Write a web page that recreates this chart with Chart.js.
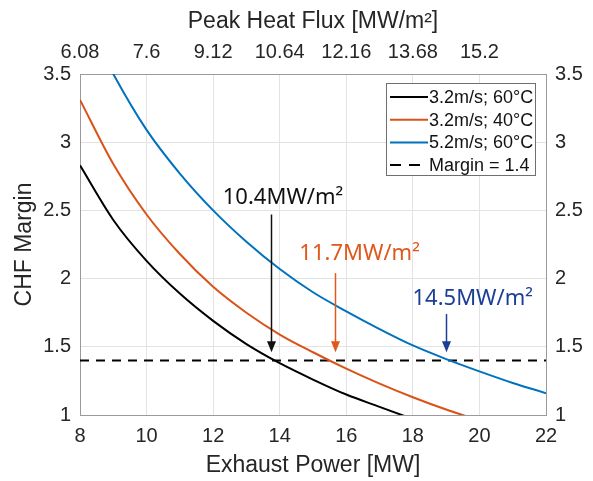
<!DOCTYPE html>
<html>
<head>
<meta charset="utf-8">
<script src="https://cdn.jsdelivr.net/npm/chart.js@4.4.1/dist/chart.umd.min.js"></script>
<style>
  html, body { margin: 0; padding: 0; background: #fff; }
  canvas { display: block; }
</style>
</head>
<body>
<canvas id="chfChart" width="593" height="481"></canvas>
<script>
// Curves (Exhaust Power [MW] -> CHF Margin)
// last points sit just below the axis and get clipped, like the original
const blackX = [8, 9, 10, 11, 12, 13, 14, 15, 16, 17, 18];
const blackY = [2.83, 2.43, 2.13, 1.89, 1.69, 1.52, 1.38, 1.26, 1.15, 1.06, 0.97];
const orangeX = [8, 9, 10, 11, 12, 13, 14, 15, 16, 17, 18, 19, 20];
const orangeY = [3.31, 2.84, 2.47, 2.18, 1.94, 1.75, 1.59, 1.46, 1.34, 1.23, 1.13, 1.04, 0.96];
const blueX = [8, 9, 10, 11, 12, 13, 14, 15, 16, 17, 18, 19, 20, 21, 22];
const blueY = [3.98, 3.5, 3.09, 2.77, 2.5, 2.27, 2.07, 1.9, 1.76, 1.63, 1.51, 1.41, 1.32, 1.235, 1.16];
const marginX = [8, 22];
const marginY = [1.4, 1.4];

const seriesLabels = ['3.2m/s; 60°C', '3.2m/s; 40°C', '5.2m/s; 60°C', 'Margin = 1.4'];

// top axis (peak heat flux) labels for the x ticks 8..22
const topTickLabels = ['6.08', '7.6', '9.12', '10.64', '12.16', '13.68', '15.2', ''];

// callouts: arrow at x, arrow from top to tip, label centre
const calloutText = ['10.4MW/m²', '11.7MW/m²', '14.5MW/m²'];
const calloutX = [13.74, 15.66, 18.99];
const calloutTop = [2.47, 2.04, 1.74];
const calloutTip = [1.46, 1.46, 1.46];
const calloutLabelX = [14.1, 16.4, 19.8];
const calloutLabelY = [2.59, 2.18, 1.85];

const colBlack = '#000000';
const colOrange = '#D95319';
const colBlue = '#0072BD';
const calloutColors = ['#111111', '#E0581C', '#1B3F97'];

function pts(xs, ys) {
    return xs.map((x, i) => ({ x: x, y: ys[i] }));
}

const tickFont = { family: 'Liberation Sans, Arial, sans-serif', size: 20 };
const titleFont = { family: 'Liberation Sans, Arial, sans-serif', size: 23 };
const tickColor = '#262626';
const gridColor = '#e3e3e3';
const boxColor = '#9a9a9a';

// legend drawn inside the plot, top right, with a frame
const legendBox = {
    id: 'legendBox',
    afterDatasetsDraw(chart) {
        const { ctx, chartArea } = chart;
        const w = 149, h = 92;
        const left = chartArea.right - 11 - w;
        const top = chartArea.top + 9;
        ctx.save();
        ctx.fillStyle = '#fff';
        ctx.fillRect(left, top, w, h);
        ctx.strokeStyle = '#6f6f6f';
        ctx.lineWidth = 1;
        ctx.strokeRect(left + 0.5, top + 0.5, w, h);
        ctx.font = '18px Liberation Sans, Arial, sans-serif';
        ctx.textBaseline = 'middle';
        chart.data.datasets.forEach((ds, i) => {
            const cy = top + 14 + i * 22.7;
            ctx.strokeStyle = ds.borderColor;
            ctx.lineWidth = 2;
            ctx.setLineDash(ds.borderDash ? [11, 8] : []);
            ctx.beginPath();
            ctx.moveTo(left + 4, cy);
            ctx.lineTo(left + 42, cy);
            ctx.stroke();
            ctx.setLineDash([]);
            ctx.fillStyle = '#111';
            ctx.fillText(ds.label, left + 43, cy + 1);
        });
        ctx.restore();
    }
};

// arrows with flux labels
const callouts = {
    id: 'callouts',
    afterDatasetsDraw(chart) {
        const { ctx } = chart;
        const xs = chart.scales.x, ys = chart.scales.y;
        ctx.save();
        ctx.font = '22px "Noto Sans", sans-serif';
        ctx.textAlign = 'center';
        ctx.textBaseline = 'middle';
        calloutText.forEach((t, i) => {
            const c = calloutColors[i];
            const px = Math.round(xs.getPixelForValue(calloutX[i])) + 0.5;
            const y0 = ys.getPixelForValue(calloutTop[i]);
            const y1 = ys.getPixelForValue(calloutTip[i]);
            ctx.strokeStyle = c;
            ctx.fillStyle = c;
            ctx.lineWidth = 1.5;
            ctx.beginPath();
            ctx.moveTo(px, y0);
            ctx.lineTo(px, y1 - 8);
            ctx.stroke();
            ctx.beginPath();
            ctx.moveTo(px - 4.5, y1 - 11);
            ctx.lineTo(px + 4.5, y1 - 11);
            ctx.lineTo(px, y1);
            ctx.closePath();
            ctx.fill();
            ctx.fillText(t, xs.getPixelForValue(calloutLabelX[i]), ys.getPixelForValue(calloutLabelY[i]));
        });
        ctx.restore();
    }
};

new Chart(document.getElementById('chfChart'), {
    type: 'line',
    data: {
        datasets: [
            { label: seriesLabels[0], data: pts(blackX, blackY), borderColor: colBlack },
            { label: seriesLabels[1], data: pts(orangeX, orangeY), borderColor: colOrange },
            { label: seriesLabels[2], data: pts(blueX, blueY), borderColor: colBlue },
            { label: seriesLabels[3], data: pts(marginX, marginY), borderColor: colBlack, borderDash: [9, 7], tension: 0 }
        ]
    },
    options: {
        responsive: false,
        animation: false,
        devicePixelRatio: 1,
        layout: { padding: 0 },
        elements: {
            point: { radius: 0 },
            line: { borderWidth: 2, fill: false, cubicInterpolationMode: 'monotone' }
        },
        plugins: {
            legend: { display: false },
            tooltip: { enabled: false }
        },
        scales: {
            x: {
                type: 'linear', position: 'bottom', min: 8, max: 22,
                afterFit: s => { s.height = 66; },
                ticks: { stepSize: 2, autoSkip: false, maxRotation: 0, padding: 9, color: tickColor, font: tickFont },
                grid: { color: gridColor, drawTicks: false },
                border: { color: boxColor },
                title: { display: true, text: 'Exhaust Power [MW]', color: tickColor, font: titleFont, padding: { bottom: 2 } }
            },
            x2: {
                type: 'linear', position: 'top', min: 8, max: 22,
                afterFit: s => { s.height = 74; },
                ticks: { stepSize: 2, autoSkip: false, maxRotation: 0, padding: 10, color: tickColor, font: tickFont,
                    callback: (v, i) => topTickLabels[i] },
                grid: { drawOnChartArea: false, drawTicks: false },
                border: { color: boxColor },
                title: { display: true, text: 'Peak Heat Flux [MW/m²]', color: tickColor, font: titleFont, padding: { top: 8 } }
            },
            y: {
                type: 'linear', position: 'left', min: 1, max: 3.5,
                afterFit: s => { s.width = 80; },
                ticks: { stepSize: 0.5, padding: 9, color: tickColor, font: tickFont, callback: v => String(v) },
                grid: { color: gridColor, drawTicks: false },
                border: { color: boxColor },
                title: { display: true, text: 'CHF Margin', color: tickColor, font: titleFont, padding: { top: 11 } }
            },
            y2: {
                type: 'linear', position: 'right', min: 1, max: 3.5,
                afterFit: s => { s.width = 47; },
                ticks: { stepSize: 0.5, padding: 9, color: tickColor, font: tickFont, callback: v => String(v) },
                grid: { drawOnChartArea: false, drawTicks: false },
                border: { color: boxColor }
            }
        }
    },
    plugins: [legendBox, callouts]
});
</script>
</body>
</html>
